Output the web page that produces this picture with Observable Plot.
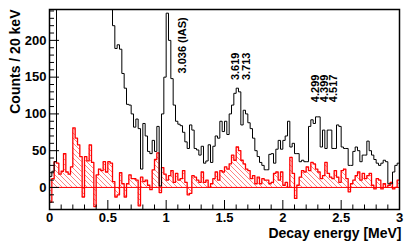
<!DOCTYPE html>
<html>
<head>
<meta charset="utf-8">
<script src="https://cdn.jsdelivr.net/npm/d3@7"></script>
<script src="https://cdn.jsdelivr.net/npm/@observablehq/plot@0.6"></script>
<style>
  html, body { margin: 0; padding: 0; background: #fff; }
</style>
</head>
<body>
<div id="chart"></div>
<script>
// ---- data ----
const binWidth = 0.02; // MeV (20 keV bins, 0–3 MeV)

const totalCounts = [
  15, 22, 35,
  480, 900, 1200, 1300, 1250, 1150, 1050, 950, 880, 800, 740, 680, 620, 570, 520, 480, 440, 410, 380, 350, 320, 300, 280, 255,
  220, 189, 194, 188, 155, 135, 113, 112, 100, 82, 93, 80, 25, 87, 70, 49, 46, 64, 49, 83, 2, 100, 150, 237,
  200, 148, 112, 90, 86, 84, 75, 62, 53, 85, 78, 53, 51, 44, 56, 33, 36, 58, 34, 56,
  70, 67, 90, 76, 90, 72, 100, 112, 128, 135, 130, 85, 105, 100, 88, 80, 67, 50, 42, 34,
  30, 24, 24, 45, 46, 33, 52, 64, 52, 64, 70, 90, 55, 60, 46, 46, 35, 37, 35, 35,
  83, 92, 87, 96, 96, 55, 78, 53, 78, 78, 53, 53, 85, 83, 55, 53, 53, 30, 30, 49,
  55, 50, 35, 44, 44, 63, 50, 44, 38, 33, 30, 33, 37, 35, 5, 5, 21, 30, 33
];

const subtractedCounts = [
  -20, 12, 35, 33, 18, 22, 46, 21, 18, 28,
  81, 67, 58, 42, -13, 42, 36, 58, 34, -26,
  17, 25, 23, 35, 21, 35, 33, 8, -13, -10,
  20, 5, -13, 5, 17, 12, 12, 10, -25, 14,
  8, 10, 3, -3, 24, 38, 47, -7, 27, 18,
  10, 16, 23, 7, 19, 10, 12, 23, 7, -10,
  -8, 16, 14, 10, 7, 21, 7, 10, 0, 5,
  12, 21, 10, 23, 21, 28, 25, 32, 44, 37,
  55, 50, 37, 32, 25, 23, 12, 16, 5, 14,
  5, 12, 10, 10, 5, 7, 19, 21, 10, 21,
  3, 7, 0, 41, 19, -15, 3, 14, 23, 21,
  28, 23, 34, 32, 25, 21, 12, 16, 34, 19,
  14, 12, 23, 14, 7, 23, 25, 12, -6, 5,
  10, 16, 21, 10, 19, 12, 16, 19, 3, -2,
  12, 10, -2, 5, 0, 3, 7, -2, 0, 10
];

const yTickValues = [0, 50, 100, 150, 200];
const yMinorValues = [-30, -20, -10, 10, 20, 30, 40, 60, 70, 80, 90, 110, 120, 130, 140, 160, 170, 180, 190, 210, 220, 230, 240];
const xTickValues = [0, 0.5, 1, 1.5, 2, 2.5, 3];
const xMinorValues = [0.1, 0.2, 0.3, 0.4, 0.6, 0.7, 0.8, 0.9, 1.1, 1.2, 1.3, 1.4, 1.6, 1.7, 1.8, 1.9, 2.1, 2.2, 2.3, 2.4, 2.6, 2.7, 2.8, 2.9];

const peakLabels = ["3.036 (IAS)", "3.619", "3.713", "4.299", "4.399", "4.517"];
const peakLabelEnergy = [1.14, 1.595, 1.685, 2.283, 2.355, 2.432];
const peakLabelCounts = [155, 146, 146, 116, 116, 116];

const yTitle = "Counts / 20 keV";
const xTitle = "Decay energy [MeV]";

// ---- build step tables ----
function steps(vals) {
  const rows = vals.map((v, i) => ({e: i * binWidth, v}));
  rows.push({e: vals.length * binWidth, v: vals[vals.length - 1]});
  return rows;
}
const totalRows = steps(totalCounts);
const subRows = steps(subtractedCounts);
const labelRows = peakLabels.map((t, i) => ({t, e: peakLabelEnergy[i], v: peakLabelCounts[i]}));

const W = 415, H = 247, mL = 49, mR = 16, mT = 9, mB = 38;
const fw = W - mL - mR, fh = H - mT - mB;
const font = "'Liberation Sans', Arial, Helvetica, sans-serif";

const svg = Plot.plot({
  width: W, height: H,
  marginLeft: mL, marginRight: mR, marginTop: mT, marginBottom: mB,
  x: {domain: [0, 3]},
  y: {domain: [-30, 242]},
  style: {fontFamily: font, background: "white", color: "black"},
  marks: [
    Plot.areaY(subRows, {x: "e", y: "v", curve: "step-after", fill: "url(#hatch)", clip: true}),
    Plot.ruleY([0], {stroke: "#ff0000", strokeWidth: 1}),
    Plot.lineY(subRows, {x: "e", y: "v", curve: "step-after", stroke: "#ff0000", strokeWidth: 1.3, clip: true}),
    Plot.lineY(totalRows, {x: "e", y: "v", curve: "step-after", stroke: "#000", strokeWidth: 1, clip: true}),
    // inward ROOT-style ticks
    Plot.tickY(yTickValues, {y: d => d, stroke: "#000", insetRight: fw - 10}),
    Plot.tickY(yMinorValues, {y: d => d, stroke: "#000", insetRight: fw - 5}),
    Plot.tickX(xTickValues, {x: d => d, stroke: "#000", insetTop: fh - 9}),
    Plot.tickX(xMinorValues, {x: d => d, stroke: "#000", insetTop: fh - 4.5}),
    Plot.axisY({ticks: yTickValues, tickSize: 0, tickPadding: 3, fontSize: 13, fontWeight: "bold", label: null}),
    Plot.axisX({ticks: xTickValues, tickSize: 0, tickPadding: 3, fontSize: 13, fontWeight: "bold", tickFormat: d => String(d), label: null}),
    Plot.text(labelRows, {x: "e", y: "v", text: "t", rotate: -90, textAnchor: "start", lineAnchor: "middle", fontSize: 11, fontWeight: "bold", fill: "#000"}),
    Plot.text([yTitle], {frameAnchor: "top-left", rotate: -90, textAnchor: "end", lineAnchor: "middle", dx: -34, dy: 0, fontSize: 14, fontWeight: "bold", fill: "#000"}),
    Plot.text([xTitle], {frameAnchor: "bottom-right", textAnchor: "end", lineAnchor: "middle", dx: 2, dy: 24, fontSize: 14, fontWeight: "bold", fill: "#000"}),
    Plot.frame({stroke: "#000", strokeWidth: 1.5})
  ]
});

// hatch pattern for the subtracted spectrum
const defs = d3.select(svg).insert("defs", ":first-child");
const pat = defs.append("pattern")
  .attr("id", "hatch")
  .attr("patternUnits", "userSpaceOnUse")
  .attr("width", 5).attr("height", 5);
pat.append("path")
  .attr("d", "M0,0L5,5M-1,4L1,6M4,-1L6,1")
  .attr("stroke", "#ff0000")
  .attr("stroke-width", 0.7)
  .attr("opacity", 0.7);

document.getElementById("chart").appendChild(svg);
</script>
</body>
</html>
